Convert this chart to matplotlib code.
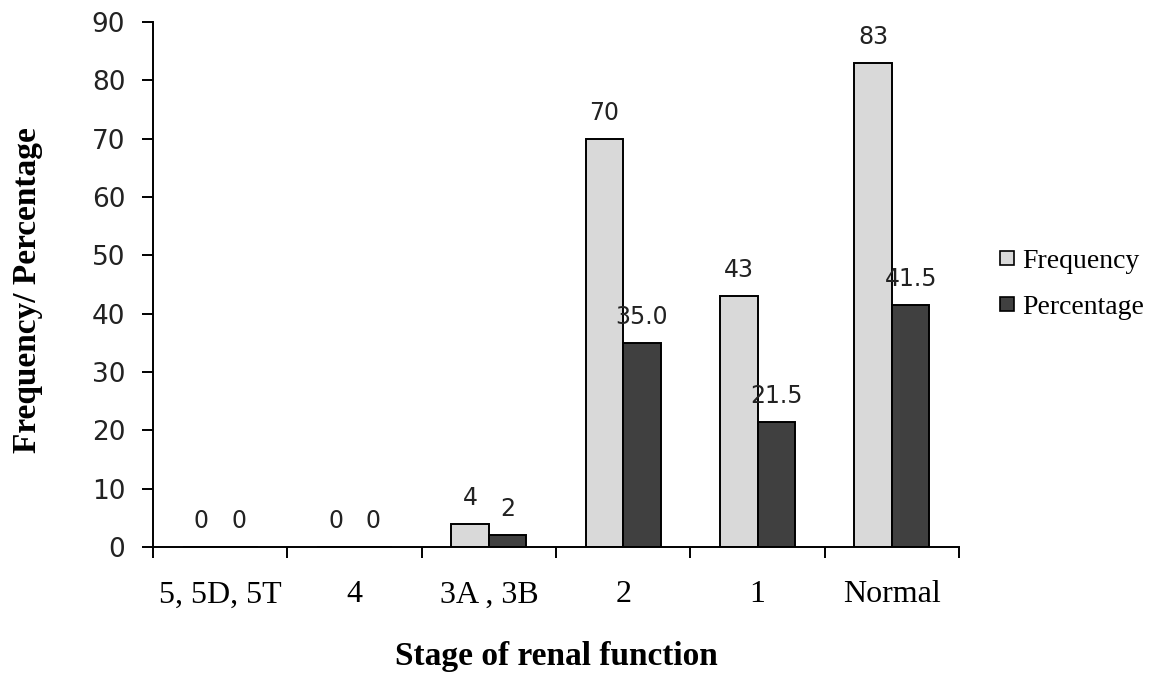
"""Grouped bar chart: frequency and percentage by stage of renal function."""

import matplotlib

matplotlib.use("Agg")
import matplotlib.pyplot as plt
import numpy as np
from matplotlib.lines import Line2D

STAGES = ["5, 5D, 5T", "4", "3A , 3B", "2", "1", "Normal"]
FREQUENCY = [0, 0, 4, 70, 43, 83]
PERCENTAGE = [0, 0, 2, 35.0, 21.5, 41.5]
FREQ_LABELS = ["0", "0", "4", "70", "43", "83"]
PCT_LABELS = ["0", "0", "2", "35.0", "21.5", "41.5"]
Y_TICKS = list(range(0, 91, 10))

FREQ_COLOR = "#D9D9D9"
PCT_COLOR = "#404040"
SERIF = "Liberation Serif"
SANS = "DejaVu Sans"

fig = plt.figure(figsize=(11.71, 6.77), dpi=100)
ax = fig.add_axes([0.1307, 0.192, 0.6883, 0.7755])

x = np.arange(len(STAGES))
width = 0.28
freq_bars = ax.bar(x - width / 2, FREQUENCY, width, color=FREQ_COLOR,
                   edgecolor="black", linewidth=1.4, zorder=2)
pct_bars = ax.bar(x + width / 2, PERCENTAGE, width, color=PCT_COLOR,
                  edgecolor="black", linewidth=1.4, zorder=2)

for bars, labels in ((freq_bars, FREQ_LABELS), (pct_bars, PCT_LABELS)):
    for bar, text in zip(bars, labels):
        ax.annotate(text, (bar.get_x() + bar.get_width() / 2, bar.get_height()),
                    xytext=(0, 10), textcoords="offset points",
                    ha="center", va="bottom", fontsize=17, family=SANS,
                    color="#222222")

ax.set_xlim(-0.5, len(STAGES) - 0.5)
ax.set_ylim(0, 90)
ax.set_yticks(Y_TICKS)
ax.set_yticklabels([str(t) for t in Y_TICKS], family=SANS, fontsize=19,
                   color="#222222")

ax.set_xticks(x)
ax.set_xticklabels(STAGES, family=SERIF, fontsize=23)
ax.set_xticks(np.arange(-0.5, len(STAGES)), minor=True)
ax.tick_params(axis="x", which="major", length=0, pad=24)
ax.tick_params(axis="x", which="minor", length=8, width=1.4, direction="out")
ax.tick_params(axis="y", length=8, width=1.4, direction="out", pad=12)

for side in ("top", "right"):
    ax.spines[side].set_visible(False)
for side in ("left", "bottom"):
    ax.spines[side].set_linewidth(1.4)

# axis titles placed by pixel position of the reference
fig.text(556 / 1171, 1 - 656 / 677, "Stage of renal function", family=SERIF,
         fontsize=24, fontweight="bold", ha="center", va="center")
fig.text(28 / 1171, 1 - 290 / 677, "Frequency/ Percentage", family=SERIF,
         fontsize=24, fontweight="bold", ha="center", va="center",
         rotation=90)

handles = [
    Line2D([], [], linestyle="none", marker="s", markersize=10,
           markerfacecolor=FREQ_COLOR, markeredgecolor="black",
           markeredgewidth=1.2, label="Frequency"),
    Line2D([], [], linestyle="none", marker="s", markersize=10,
           markerfacecolor=PCT_COLOR, markeredgecolor="black",
           markeredgewidth=1.2, label="Percentage"),
]
fig.legend(handles=handles, loc="center left", bbox_to_anchor=(0.830, 0.58),
           frameon=False, prop={"family": SERIF, "size": 20},
           handlelength=0.7, handletextpad=0.2, labelspacing=0.75,
           borderpad=0.4)

fig.savefig("out.png", dpi=100, facecolor="white")
